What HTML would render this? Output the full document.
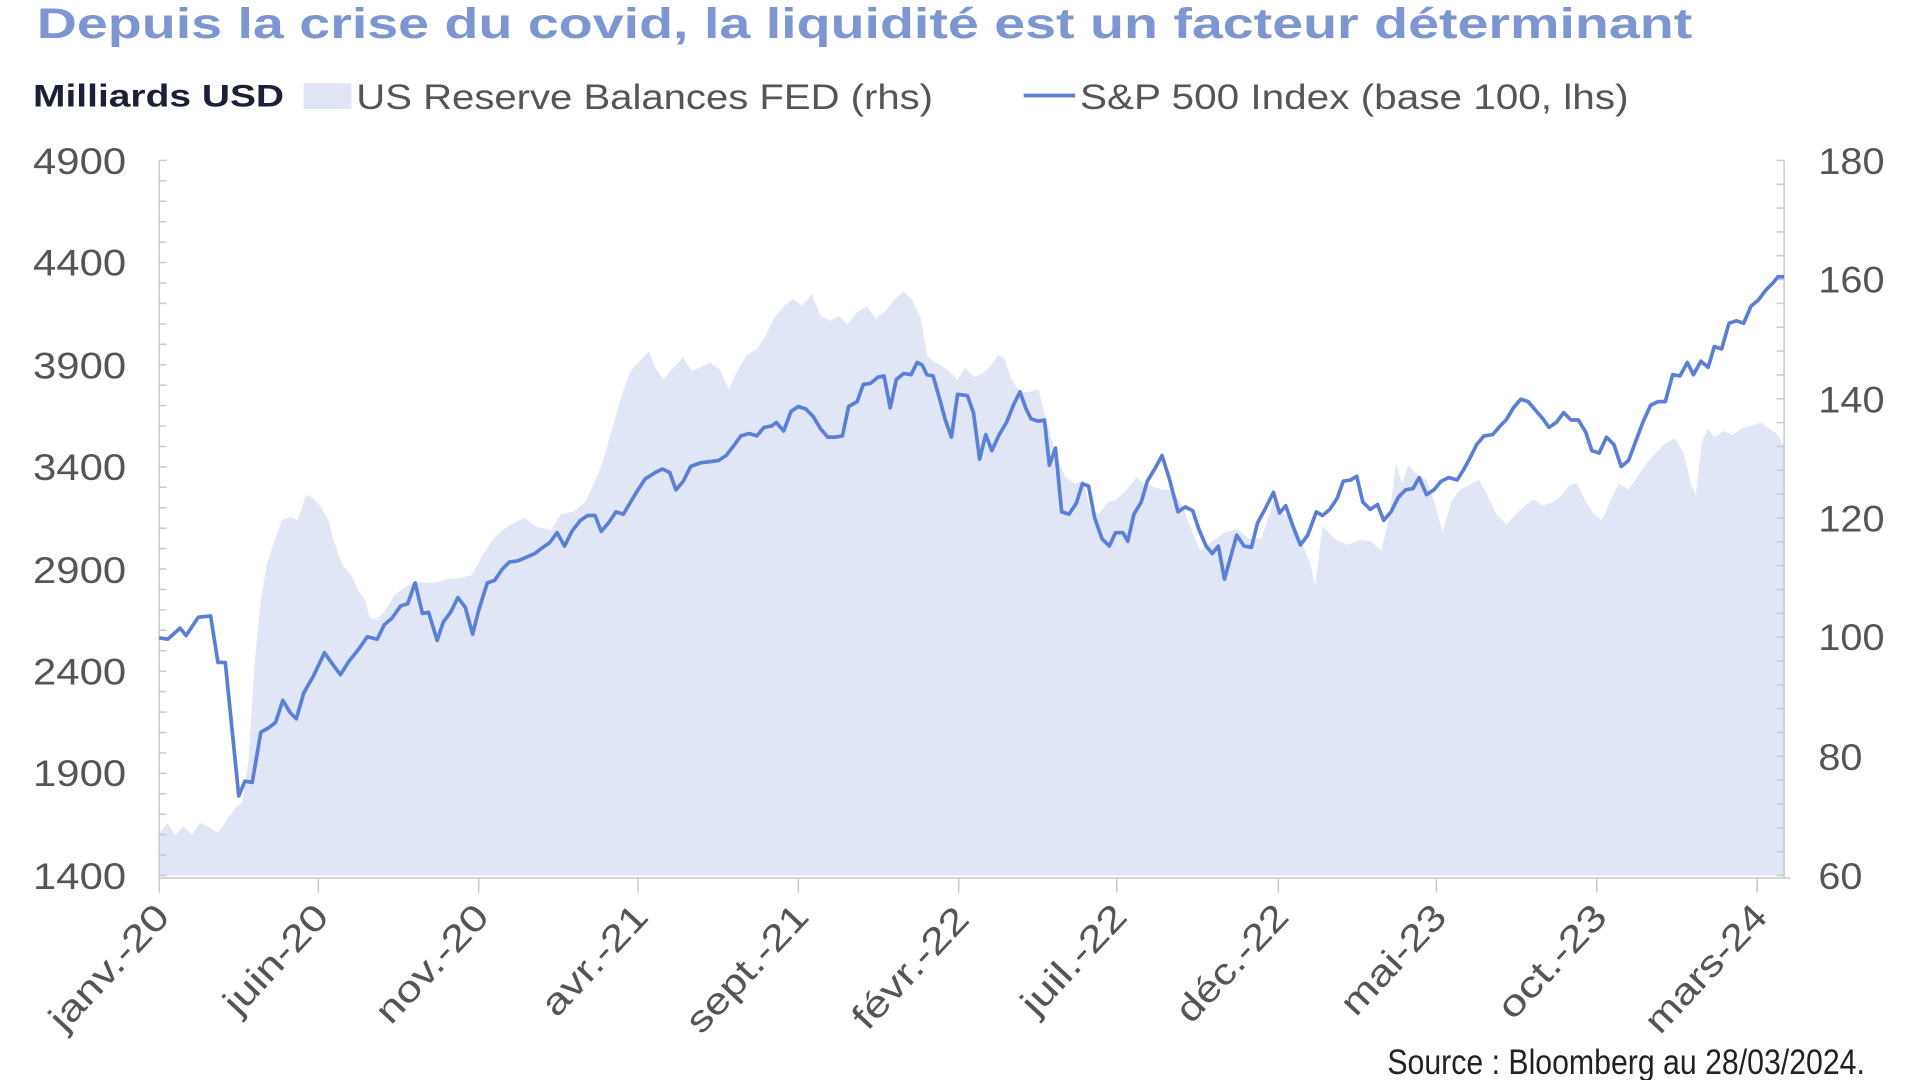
<!DOCTYPE html>
<html><head><meta charset="utf-8"><style>
html,body{margin:0;padding:0;background:#fff;width:1920px;height:1080px;overflow:hidden}
svg{display:block}
text{font-family:"Liberation Sans",sans-serif}
</style></head><body>
<svg width="1920" height="1080" viewBox="0 0 1568 882" preserveAspectRatio="none">
<text x="30" y="31" font-size="35" font-weight="bold" fill="#7d96d1" textLength="1352" lengthAdjust="spacingAndGlyphs">Depuis la crise du covid, la liquidité est un facteur déterminant</text>
<text x="27" y="87" font-size="26" font-weight="bold" fill="#1b2038" textLength="205" lengthAdjust="spacingAndGlyphs">Milliards USD</text>
<rect x="248" y="68" width="39" height="21" fill="#dfe5f5"/>
<text x="291" y="89" font-size="29" fill="#555" textLength="471" lengthAdjust="spacingAndGlyphs">US Reserve Balances FED (rhs)</text>
<line x1="836" y1="78" x2="878" y2="78" stroke="#5b7fd4" stroke-width="3"/>
<text x="882" y="89" font-size="29" fill="#555" textLength="448" lengthAdjust="spacingAndGlyphs">S&amp;P 500 Index (base 100, lhs)</text>

<polygon fill="#e0e6f6" points="130,715 130,680 137,672 143,682 150,675 157,682 163,672 170,675 178,680 185,670 192,660 198,655 203,620 208,540 213,490 218,460 225,440 230,425 237,422 243,425 250,404 256,407 262,414 268,425 273,443 280,462 287,470 293,483 298,490 302,505 308,506 315,498 322,486 330,480 340,475 348,476 355,476 365,473 375,472 385,470 395,452 403,440 410,433 418,428 428,423 438,430 450,433 458,420 468,418 478,410 485,395 492,378 500,350 508,322 515,303 522,295 530,287 535,300 542,310 550,300 558,292 565,303 572,300 580,296 588,302 595,318 602,303 610,290 618,285 625,275 632,260 640,250 648,244 655,250 663,240 670,258 678,262 685,258 692,265 700,255 708,250 715,260 722,255 730,245 738,238 745,245 752,260 757,290 762,295 768,298 775,303 782,310 788,300 795,308 802,305 808,300 815,290 820,292 826,310 833,320 840,320 848,318 855,345 862,370 870,390 878,395 885,392 890,415 897,420 905,410 912,408 920,400 928,390 935,395 943,398 950,400 958,400 965,412 972,430 980,450 990,442 1000,435 1010,432 1020,440 1030,440 1040,410 1048,420 1055,422 1062,440 1070,460 1074,478 1080,430 1090,440 1100,445 1110,441 1120,442 1128,450 1135,420 1140,378 1145,395 1150,380 1158,388 1165,392 1172,412 1178,435 1185,410 1192,400 1200,396 1208,392 1215,405 1222,420 1230,428 1238,420 1245,413 1252,408 1260,413 1268,410 1275,405 1282,396 1288,395 1295,410 1302,420 1308,425 1315,410 1322,395 1330,400 1338,388 1345,378 1352,370 1360,362 1368,358 1375,370 1381,395 1385,405 1390,360 1395,350 1400,357 1408,352 1415,355 1422,350 1430,348 1438,345 1445,350 1452,355 1457,365 1457,715"/>

<g stroke="#c8c8c8" stroke-width="1.2" fill="none">
<line x1="130" y1="131" x2="130" y2="717"/>
<line x1="1457" y1="131" x2="1457" y2="717"/>
<line x1="130" y1="717" x2="1462" y2="717"/>
</g>
<g id="ticks" stroke="#c8c8c8" stroke-width="1.2"></g>

<polyline fill="none" stroke="#5b7fd4" stroke-width="3" stroke-linejoin="round" points="130,521 137,522 147,513 152,519 162,504 172,503 178,541 184,541 195,650 200,638 206,639 213,598 220,594 225,590 231,572 237,582 242,587 248,566 256,552 265,533 272,543 278,551 285,540 293,530 300,520 308,522 314,510 320,505 327,495 333,493 339,476 345,501 350,500 357,523 362,508 368,500 374,488 380,496 386,518 391,498 398,476 404,474 410,465 416,459 423,458 430,455 437,452 442,448 449,443 455,435 461,446 467,434 474,425 480,421 486,421 491,434 497,427 503,418 509,420 515,410 521,400 527,391 535,386 541,383 547,386 552,400 558,393 564,381 572,378 580,377 587,376 593,372 600,363 605,356 612,354 618,356 624,349 630,348 634,345 640,352 646,336 652,332 658,334 664,340 670,350 676,357 682,357 688,356 693,332 700,328 705,314 711,313 717,308 722,307 727,333 732,310 738,305 744,306 749,296 753,298 757,306 762,307 768,328 772,343 777,357 782,322 790,323 795,337 800,375 805,355 810,368 816,355 822,345 828,330 833,320 838,334 842,342 848,344 853,343 857,380 862,366 867,418 873,420 879,411 884,395 889,397 894,423 900,440 906,446 911,435 917,435 921,442 926,420 932,410 937,393 943,383 949,372 955,391 962,418 968,414 974,417 979,432 985,446 990,452 995,446 1000,473 1005,455 1010,437 1016,446 1022,447 1027,427 1033,416 1040,402 1045,419 1050,413 1056,430 1062,445 1068,437 1075,418 1080,421 1086,416 1092,407 1097,393 1103,392 1108,389 1113,410 1119,416 1125,412 1130,425 1136,418 1142,406 1148,400 1154,399 1159,390 1165,404 1171,400 1177,393 1183,390 1190,392 1195,384 1200,375 1206,363 1212,356 1219,355 1225,348 1230,343 1236,333 1242,326 1248,328 1254,335 1260,342 1265,349 1271,345 1277,337 1283,343 1289,343 1295,353 1300,368 1306,370 1312,357 1318,363 1324,381 1330,376 1336,360 1342,344 1348,331 1354,328 1360,328 1366,306 1372,307 1378,296 1383,306 1389,295 1395,300 1400,283 1406,285 1412,264 1418,262 1424,264 1430,250 1436,245 1442,237 1448,231 1452,226 1457,226"/>

<g font-size="30" fill="#555" text-anchor="end">
<text x="103" y="142" textLength="76" lengthAdjust="spacingAndGlyphs">4900</text><text x="103" y="225" textLength="76" lengthAdjust="spacingAndGlyphs">4400</text><text x="103" y="309" textLength="76" lengthAdjust="spacingAndGlyphs">3900</text><text x="103" y="392" textLength="76" lengthAdjust="spacingAndGlyphs">3400</text><text x="103" y="476" textLength="76" lengthAdjust="spacingAndGlyphs">2900</text><text x="103" y="559" textLength="76" lengthAdjust="spacingAndGlyphs">2400</text><text x="103" y="642" textLength="76" lengthAdjust="spacingAndGlyphs">1900</text><text x="103" y="726" textLength="76" lengthAdjust="spacingAndGlyphs">1400</text>
</g>
<g font-size="30" fill="#555">
<text x="1485" y="142" textLength="54" lengthAdjust="spacingAndGlyphs">180</text><text x="1485" y="239" textLength="54" lengthAdjust="spacingAndGlyphs">160</text><text x="1485" y="337" textLength="54" lengthAdjust="spacingAndGlyphs">140</text><text x="1485" y="434" textLength="54" lengthAdjust="spacingAndGlyphs">120</text><text x="1485" y="531" textLength="54" lengthAdjust="spacingAndGlyphs">100</text><text x="1485" y="629" textLength="36" lengthAdjust="spacingAndGlyphs">80</text><text x="1485" y="726" textLength="36" lengthAdjust="spacingAndGlyphs">60</text>
</g>
<g font-size="30" fill="#555" text-anchor="end">
<text transform="translate(140,750) rotate(-47)" textLength="128" lengthAdjust="spacingAndGlyphs">janv.-20</text>
<text transform="translate(270,750) rotate(-47)" textLength="110" lengthAdjust="spacingAndGlyphs">juin-20</text>
<text transform="translate(401,750) rotate(-47)" textLength="120" lengthAdjust="spacingAndGlyphs">nov.-20</text>
<text transform="translate(531,750) rotate(-47)" textLength="112" lengthAdjust="spacingAndGlyphs">avr.-21</text>
<text transform="translate(662,750) rotate(-47)" textLength="131" lengthAdjust="spacingAndGlyphs">sept.-21</text>
<text transform="translate(793,752) rotate(-47)" textLength="124" lengthAdjust="spacingAndGlyphs">févr.-22</text>
<text transform="translate(922,750) rotate(-47)" textLength="111" lengthAdjust="spacingAndGlyphs">juil.-22</text>
<text transform="translate(1054,750) rotate(-47)" textLength="119" lengthAdjust="spacingAndGlyphs">déc.-22</text>
<text transform="translate(1183,750) rotate(-47)" textLength="111" lengthAdjust="spacingAndGlyphs">mai-23</text>
<text transform="translate(1314,750) rotate(-47)" textLength="115" lengthAdjust="spacingAndGlyphs">oct.-23</text>
<text transform="translate(1445,750) rotate(-47)" textLength="131" lengthAdjust="spacingAndGlyphs">mars-24</text>
</g>
<text x="1523" y="877" font-size="29" fill="#222" text-anchor="end" textLength="390" lengthAdjust="spacingAndGlyphs">Source : Bloomberg au 28/03/2024.</text>
</svg>
<script>
var g=document.getElementById('ticks'),s='';
for(var i=0;i<=35;i++){var y=131+i*584/35;s+='<line x1="130" y1="'+y+'" x2="136" y2="'+y+'"/>';}
for(var j=0;j<=30;j++){var y2=131+j*584/30;s+='<line x1="1451" y1="'+y2+'" x2="1457" y2="'+y2+'"/>';}
[130,260,391,521,652,783,912,1044,1173,1304,1435].forEach(function(x){s+='<line x1="'+x+'" y1="717" x2="'+x+'" y2="729"/>';});
g.innerHTML=s;
</script>
</body></html>
